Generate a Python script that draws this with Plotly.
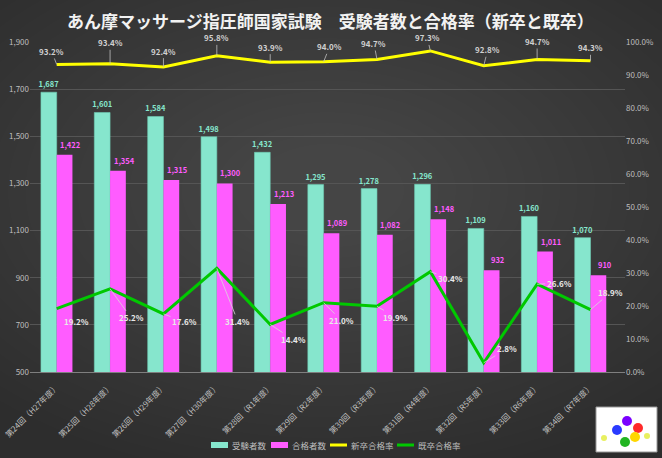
import plotly.graph_objects as go
from plotly.subplots import make_subplots

categories = ["第24回（H27年度）", "第25回（H28年度）", "第26回（H29年度）", "第27回（H30年度）",
              "第28回（R1年度）", "第29回（R2年度）", "第30回（R3年度）", "第31回（R4年度）",
              "第32回（R5年度）", "第33回（R6年度）", "第34回（R7年度）"]
examinees = [1687, 1601, 1584, 1498, 1432, 1295, 1278, 1296, 1109, 1160, 1070]
passers = [1422, 1354, 1315, 1300, 1213, 1089, 1082, 1148, 932, 1011, 910]
new_rate = [93.2, 93.4, 92.4, 95.8, 93.9, 94.0, 94.7, 97.3, 92.8, 94.7, 94.3]
old_rate = [19.2, 25.2, 17.6, 31.4, 14.4, 21.0, 19.9, 30.4, 2.8, 26.6, 18.9]
series_names = ["受験者数", "合格者数", "新卒合格率", "既卒合格率"]

# label offsets (pixels) for leader-line labels
new_off = [(-5, -13), (0, -21), (0, -16), (0, -18), (0, -15), (6, -15),
           (-3, -16), (-3, -13), (4, -16), (0, -18), (0, -13)]
old_off = [(20, 13), (21, 29), (21, 8), (21, 53), (23, 15), (18, 18),
           (19, 11), (20, 7), (23, -14), (22, -1), (20, -17)]

FONT = "Noto Sans CJK JP"
TEAL = "#86e6cd"
PINK = "#ff5cff"
YELLOW = "#ffff00"
GREEN = "#00c800"

fig = make_subplots(specs=[[{"secondary_y": True}]])

fig.add_trace(go.Bar(x=categories, y=examinees, name=series_names[0],
                     marker=dict(color=TEAL, line=dict(color="#6fcfb6", width=0.6)),
                     texttemplate="<b>%{y:,}</b>", textposition="outside",
                     constraintext="none",
                     textfont=dict(color=TEAL, size=7.5, family=FONT), cliponaxis=False),
              secondary_y=False)
fig.add_trace(go.Bar(x=categories, y=passers, name=series_names[1],
                     marker=dict(color=PINK, line=dict(width=0))),
              secondary_y=False)
fig.add_trace(go.Scatter(x=categories, y=new_rate, name=series_names[2], mode="lines",
                         line=dict(color=YELLOW, width=3)), secondary_y=True)
fig.add_trace(go.Scatter(x=categories, y=old_rate, name=series_names[3], mode="lines",
                         line=dict(color=GREEN, width=3)), secondary_y=True)

annotations = []
# pink bar value labels (slightly right of bar centre, as in the original)
for c, v in zip(categories, passers):
    annotations.append(dict(x=c, y=v, xref="x", yref="y", text=f"<b>{v:,}</b>",
                            showarrow=False, xshift=14, yshift=3, yanchor="bottom",
                            font=dict(color=PINK, size=7.5, family=FONT)))
for c, v, (ax, ay) in zip(categories, new_rate, new_off):
    annotations.append(dict(x=c, y=v, yref="y2", xref="x", text=f"<b>{v:.1f}%</b>",
                            showarrow=True, arrowhead=0, arrowwidth=0.8, arrowcolor="#bfbfbf",
                            ax=ax, ay=ay, standoff=0,
                            font=dict(color="#d0d0d0", size=8, family=FONT)))
for c, v, (ax, ay) in zip(categories, old_rate, old_off):
    annotations.append(dict(x=c, y=v, yref="y2", xref="x", text=f"<b>{v:.1f}%</b>",
                            showarrow=True, arrowhead=0, arrowwidth=0.8, arrowcolor="#d8d8d8",
                            ax=ax, ay=ay, standoff=0,
                            font=dict(color="#e8e8e8", size=8, family=FONT)))


def px_x(px):
    return (px - 30) / 595


def px_y(py):
    return (372 - py) / 330


# background radial-ish gradient via layered ellipses
shapes = []
n = 24
for i in range(n):
    s = 0.8 - i * (0.7 / n)
    shapes.append(dict(type="circle", xref="paper", yref="paper", layer="below",
                       x0=0.5 - s, x1=0.5 + s, y0=0.55 - s * 1.1, y1=0.55 + s * 1.1,
                       fillcolor="rgba(255,255,255,0.0085)", line=dict(width=0)))

# legend drawn manually (compact, like the original)
leg_y = 445
leg_items = [(211, "rect", TEAL), (271, "rect", PINK), (330, "line", YELLOW), (397, "line", GREEN)]
for (lx, kind, col), name in zip(leg_items, series_names):
    if kind == "rect":
        shapes.append(dict(type="rect", xref="paper", yref="paper",
                           x0=px_x(lx), x1=px_x(lx + 17), y0=px_y(leg_y + 3), y1=px_y(leg_y - 3),
                           fillcolor=col, line=dict(width=0)))
    else:
        shapes.append(dict(type="line", xref="paper", yref="paper",
                           x0=px_x(lx), x1=px_x(lx + 17), y0=px_y(leg_y), y1=px_y(leg_y),
                           line=dict(color=col, width=3)))
    annotations.append(dict(xref="paper", yref="paper", x=px_x(lx + 19), y=px_y(leg_y),
                            text=name, showarrow=False, xanchor="left", yanchor="middle",
                            font=dict(size=8.5, color="#bfbfbf", family=FONT)))

# logo box
shapes.append(dict(type="rect", xref="paper", yref="paper",
                   x0=px_x(596), x1=px_x(657), y0=px_y(452), y1=px_y(407),
                   fillcolor="white", line=dict(color="#999", width=1)))
flower = [("#7a00ff", 627, 421), ("#ff2a2a", 638, 428), ("#2a3aff", 617, 430),
          ("#ffd700", 635, 437), ("#22b522", 625, 442), ("#e8f060", 604, 438),
          ("#e8f060", 647, 436)]
for col, cx, cy in flower:
    r = 5 if col != "#e8f060" else 3
    shapes.append(dict(type="circle", xref="paper", yref="paper",
                       x0=px_x(cx - r), x1=px_x(cx + r), y0=px_y(cy + r), y1=px_y(cy - r),
                       fillcolor=col, line=dict(width=0)))

annotations.append(dict(xref="paper", yref="paper", x=px_x(330), y=px_y(20),
                        text="<b>あん摩マッサージ指圧師国家試験　受験者数と合格率（新卒と既卒）</b>",
                        showarrow=False, xanchor="center", yanchor="middle",
                        font=dict(size=17, color="#f2f2f2", family=FONT)))

fig.update_layout(
    width=662, height=458,
    margin=dict(l=30, r=37, t=42, b=86, autoexpand=False),
    paper_bgcolor="#2d2d2d",
    plot_bgcolor="rgba(0,0,0,0)",
    barmode="group", bargap=0.41, bargroupgap=0,
    font=dict(family=FONT, color="#bfbfbf", size=8),
    showlegend=False,
    annotations=annotations,
    shapes=shapes,
)
fig.update_xaxes(domain=[0, 1], tickangle=-45, tickfont=dict(size=8, color="#bfbfbf", family=FONT),
                 showgrid=False, showline=True, linecolor="#7f7f7f", linewidth=1,
                 ticks="outside", ticklen=6, tickcolor="rgba(0,0,0,0)", automargin=False)
fig.update_yaxes(range=[500, 1900], tick0=500, dtick=200, tickformat=",", showgrid=True,
                 gridcolor="#555555", gridwidth=1, zeroline=False, automargin=False,
                 tickfont=dict(size=8, color="#bfbfbf", family=FONT), secondary_y=False)
fig.update_yaxes(range=[0, 100], dtick=10, tickformat=".1f", ticksuffix="%", showgrid=False,
                 zeroline=False, automargin=False,
                 tickfont=dict(size=8, color="#bfbfbf", family=FONT),
                 secondary_y=True)

fig.write_html("out.html")
